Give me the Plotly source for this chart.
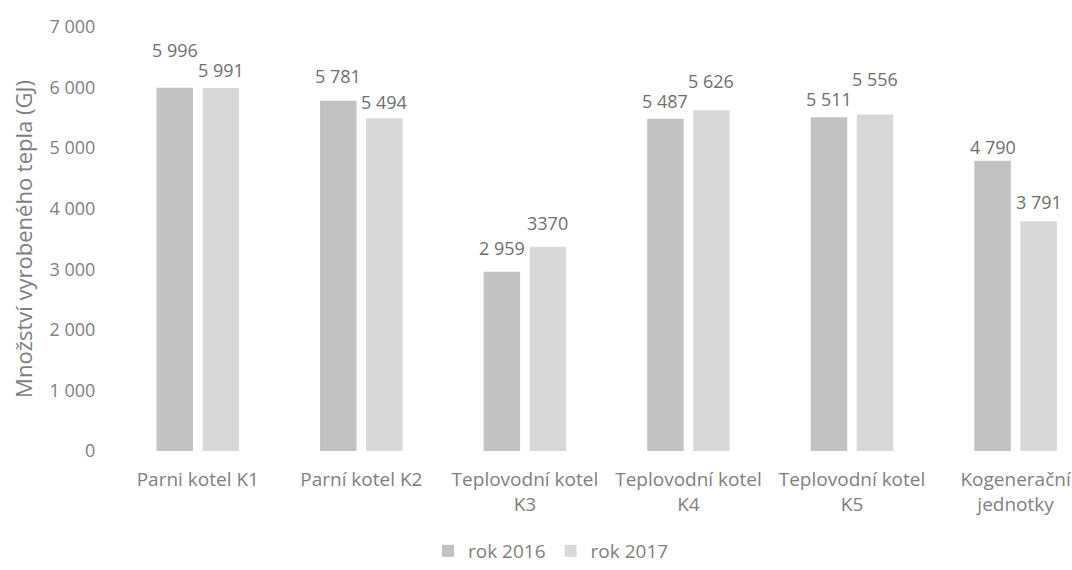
import plotly.graph_objects as go

# Heat production per source, GJ
categories = [
    "Parni kotel K1",
    "Parní kotel K2",
    "Teplovodní kotel<br>K3",
    "Teplovodní kotel<br>K4",
    "Teplovodní kotel<br>K5",
    "Kogenerační<br>jednotky",
]
values_2016 = [5996, 5781, 2959, 5487, 5511, 4790]
values_2017 = [5991, 5494, 3370, 5626, 5556, 3791]
labels_2016 = ["5 996", "5 781", "2 959", "5 487", "5 511", "4 790"]
labels_2017 = ["5 991", "5 494", "3370", "5 626", "5 556", "3 791"]
y_ticks = [0, 1000, 2000, 3000, 4000, 5000, 6000, 7000]
y_tick_text = ["0", "1 000", "2 000", "3 000", "4 000", "5 000", "6 000", "7 000"]

# label lift above each bar top, in pixels
lift_2016 = [38, 25, 24, 18, 18, 14]
lift_2017 = [18, 16, 24, 29, 35, 19]

FONT = "Open Sans"
TEXT_GREY = "#7f7f7f"
LABEL_GREY = "#6f6f6f"

fig = go.Figure()
fig.add_trace(go.Bar(name="rok 2016", x=categories, y=values_2016,
                     marker=dict(color="#c2c2c2", line=dict(width=0))))
fig.add_trace(go.Bar(name="rok 2017", x=categories, y=values_2017,
                     marker=dict(color="#d8d8d8", line=dict(width=0))))

annotations = []
for cat, v, txt, lift in zip(categories, values_2016, labels_2016, lift_2016):
    annotations.append(dict(x=cat, y=v, text=txt, showarrow=False, xshift=-23,
                            yshift=lift, xanchor="center", yanchor="middle",
                            font=dict(family=FONT, size=18, color=LABEL_GREY)))
for cat, v, txt, lift in zip(categories, values_2017, labels_2017, lift_2017):
    annotations.append(dict(x=cat, y=v, text=txt, showarrow=False, xshift=23,
                            yshift=lift, xanchor="center", yanchor="middle",
                            font=dict(family=FONT, size=18, color=LABEL_GREY)))

fig.update_layout(
    width=1072, height=570,
    margin=dict(l=116, r=0, t=27, b=119, autoexpand=False),
    paper_bgcolor="white", plot_bgcolor="white",
    barmode="group", bargap=0.437, bargroupgap=0.208,
    font=dict(family=FONT, size=18, color=TEXT_GREY),
    showlegend=True,
    legend=dict(orientation="h", x=0.455, xanchor="center",
                yref="container", y=0.0, yanchor="bottom",
                font=dict(family=FONT, size=19, color=TEXT_GREY),
                itemwidth=30, traceorder="normal"),
    annotations=annotations,
    xaxis=dict(range=[-0.5, 5.345], showgrid=False, showline=False, zeroline=False,
               automargin=False,
               ticks="outside", ticklen=11, tickcolor="rgba(0,0,0,0)",
               tickfont=dict(family=FONT, size=19, color=TEXT_GREY)),
    yaxis=dict(range=[0, 7000], tickvals=y_ticks, ticktext=y_tick_text,
               showgrid=False, showline=False, zeroline=False,
               automargin=False,
               ticks="outside", ticklen=16, tickcolor="rgba(0,0,0,0)",
               tickfont=dict(family=FONT, size=18, color=TEXT_GREY),
               title=dict(text="Množství vyrobeného tepla (GJ)", standoff=10,
                          font=dict(family=FONT, size=22, color=TEXT_GREY))),
)

fig.write_html("out.html")
